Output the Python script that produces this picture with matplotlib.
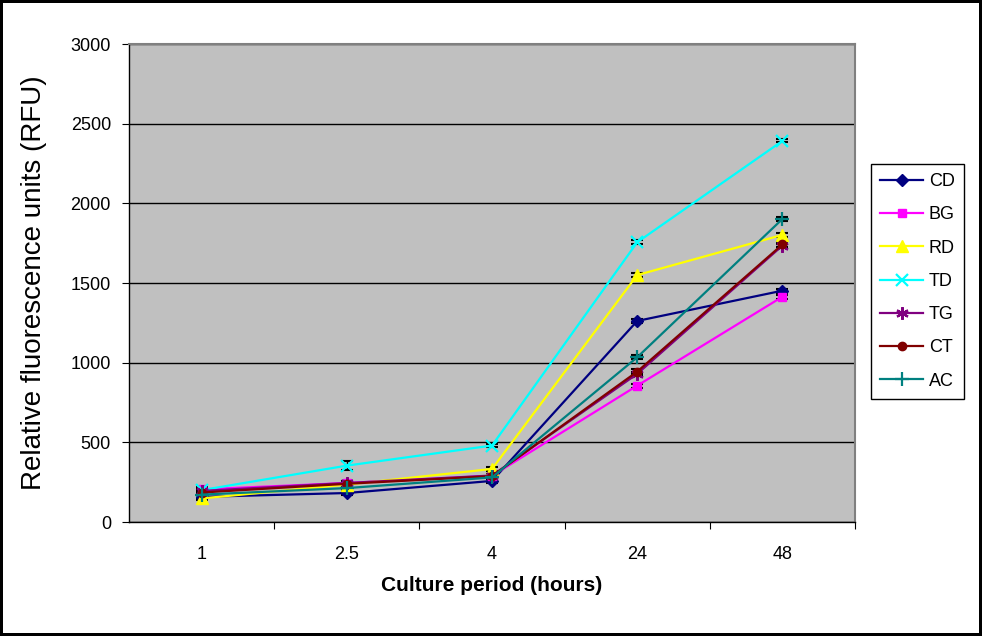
import matplotlib.pyplot as plt
import numpy as np

plt.rcParams['font.family'] = ['Liberation Sans', 'DejaVu Sans']

hours = ['1', '2.5', '4', '24', '48']
series = ['CD', 'BG', 'RD', 'TD', 'TG', 'CT', 'AC']

cd = [158, 182, 258, 1262, 1452]
bg = [205, 245, 290, 856, 1414]
rd = [148, 235, 333, 1550, 1802]
td = [200, 354, 480, 1756, 2392]
tg = [195, 245, 292, 930, 1735]
ct = [185, 240, 288, 944, 1742]
ac = [172, 213, 280, 1034, 1902]

cd_err = [10, 12, 10, 10, 12]
bg_err = [12, 12, 10, 12, 12]
rd_err = [10, 10, 15, 12, 12]
td_err = [12, 28, 10, 12, 10]
tg_err = [12, 12, 12, 12, 12]
ct_err = [12, 15, 10, 15, 15]
ac_err = [12, 15, 10, 12, 10]

values = [cd, bg, rd, td, tg, ct, ac]
errors = [cd_err, bg_err, rd_err, td_err, tg_err, ct_err, ac_err]
colors = ['#000080', '#FF00FF', '#FFFF00', '#00FFFF', '#800080', '#800000', '#008080']
markers = ['D', 's', '^', 'x', (6, 2, 0), 'o', '+']
msizes = [6, 6, 8, 8, 9, 6, 10]

fig = plt.figure(figsize=(9.82, 6.36), dpi=100)
fig.patch.set_edgecolor('black')
fig.patch.set_linewidth(3)
ax = fig.add_axes([0.1314, 0.1792, 0.7393, 0.7516])
ax.set_facecolor('#C0C0C0')

x = np.arange(len(hours))
for name, v, e, c, m, ms in zip(series, values, errors, colors, markers, msizes):
    ax.errorbar(x, v, yerr=e, fmt='none', ecolor='black', elinewidth=1,
                capsize=4, capthick=1.5, zorder=2)
    ax.plot(x, v, color=c, lw=1.6, marker=m, markersize=ms,
            markeredgewidth=1.6 if m in ('x', '+', (6, 2, 0)) else 1,
            markerfacecolor=c, markeredgecolor=c, label=name, zorder=3)

ax.set_xlim(-0.5, len(hours) - 0.5)
ax.set_ylim(0, 3000)
ax.set_yticks(np.arange(0, 3001, 500))
ax.yaxis.grid(True, color='black', lw=1)
ax.set_axisbelow(True)
ax.tick_params(axis='y', labelsize=13, length=5, direction='out', pad=8)

ax.set_xticks(np.arange(0.5, len(hours) - 0.5 + 0.01, 1))
ax.set_xticklabels([])
ax.tick_params(axis='x', which='major', length=5, direction='out')
ax.set_xticks(x, minor=True)
ax.set_xticklabels(hours, minor=True)
ax.tick_params(axis='x', which='minor', length=0, labelsize=13, pad=17)

for s in ['top', 'right']:
    ax.spines[s].set_color('#808080')
    ax.spines[s].set_linewidth(1.5)
for s in ['left', 'bottom']:
    ax.spines[s].set_color('black')
    ax.spines[s].set_linewidth(1)

ax.set_ylabel('Relative fluorescence units (RFU)', fontsize=20)
ax.yaxis.set_label_coords(-0.113, 0.5)
ax.set_xlabel('Culture period (hours)', fontsize=15, fontweight='bold')
ax.xaxis.set_label_coords(0.5, -0.112)

leg = ax.legend(loc='upper left', bbox_to_anchor=(0.887, 0.742),
                bbox_transform=fig.transFigure, fontsize=13, frameon=True,
                fancybox=False, edgecolor='black', framealpha=1,
                handlelength=2.4, labelspacing=0.9, borderpad=0.5,
                handletextpad=0.3, borderaxespad=0)
leg.get_frame().set_linewidth(1)

fig.savefig('out.png', dpi=100, edgecolor=fig.get_edgecolor())
